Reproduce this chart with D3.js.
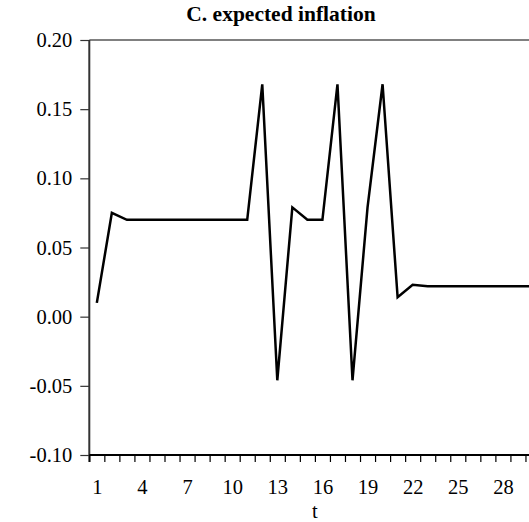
<!DOCTYPE html>
<html>
<head>
<meta charset="utf-8">
<script src="https://cdn.jsdelivr.net/npm/d3@7"></script>
<style>
  html, body { margin: 0; padding: 0; background: #fff; }
  svg { display: block; font-family: "Liberation Serif", "Times New Roman", serif; }
</style>
</head>
<body>
<svg id="chart" width="529" height="522"></svg>
<script>
const title = "C. expected inflation";
const xTitle = "t";
const periods = d3.range(1, 31);
const expectedInflation = [
  0.010, 0.075, 0.070, 0.070, 0.070, 0.070, 0.070, 0.070, 0.070, 0.070,
  0.070, 0.168, -0.046, 0.079, 0.070, 0.070, 0.168, -0.046, 0.079, 0.168,
  0.014, 0.023, 0.022, 0.022, 0.022, 0.022, 0.022, 0.022, 0.022, 0.022
];
const yTicks = [-0.10, -0.05, 0.00, 0.05, 0.10, 0.15, 0.20];
const xLabelTicks = [1, 4, 7, 10, 13, 16, 19, 22, 25, 28];

const svg = d3.select("#chart");
const plotLeft = 89.3, plotRight = 540.5, plotTop = 40, plotBottom = 455;

const x = d3.scaleLinear().domain([0.5, 30.5]).range([plotLeft, plotRight]);
const y = d3.scaleLinear().domain([-0.10, 0.20]).range([plotBottom, plotTop]);

const yFmt = d => d3.format(".2f")(d).replace("\u2212", "-");

// top frame line (gray)
svg.append("line")
  .attr("x1", plotLeft).attr("x2", plotRight)
  .attr("y1", y(0.20)).attr("y2", y(0.20))
  .attr("stroke", "#808080").attr("stroke-width", 2);

// y axis
const yAxis = svg.append("g")
  .attr("transform", `translate(${plotLeft},0)`)
  .call(d3.axisLeft(y).tickValues(yTicks).tickFormat(yFmt).tickSize(9).tickPadding(8));
yAxis.select(".domain").remove();
yAxis.selectAll(".tick line").attr("stroke", "#333").attr("stroke-width", 1.2);
yAxis.selectAll(".tick text").attr("font-size", 20.5).attr("fill", "#000")
  .attr("font-family", "'Liberation Serif', 'Times New Roman', serif");
svg.append("line")
  .attr("x1", plotLeft).attr("x2", plotLeft)
  .attr("y1", plotTop).attr("y2", plotBottom + 7)
  .attr("stroke", "#333").attr("stroke-width", 2);

// x axis tick marks at period boundaries
const xTickMarks = d3.range(0.5, 31, 1);
const xAxisMarks = svg.append("g")
  .attr("transform", `translate(0,${plotBottom})`)
  .call(d3.axisBottom(x).tickValues(xTickMarks).tickFormat("").tickSize(7));
xAxisMarks.select(".domain").remove();
xAxisMarks.selectAll(".tick line").attr("stroke", "#000").attr("stroke-width", 1.2);
svg.append("line")
  .attr("x1", plotLeft).attr("x2", plotRight)
  .attr("y1", plotBottom).attr("y2", plotBottom)
  .attr("stroke", "#000").attr("stroke-width", 2);

// x axis labels
const xAxisLabels = svg.append("g")
  .attr("transform", `translate(0,${plotBottom})`)
  .call(d3.axisBottom(x).tickValues(xLabelTicks).tickFormat(d3.format("d")).tickSize(0).tickPadding(24));
xAxisLabels.select(".domain").remove();
xAxisLabels.selectAll(".tick text").attr("font-size", 20.5).attr("fill", "#000")
  .attr("font-family", "'Liberation Serif', 'Times New Roman', serif");

// x title
svg.append("text")
  .attr("x", (plotLeft + plotRight) / 2).attr("y", 518)
  .attr("text-anchor", "middle")
  .attr("font-size", 20.5)
  .text(xTitle);

// chart title
svg.append("text")
  .attr("x", 281).attr("y", 21)
  .attr("text-anchor", "middle")
  .attr("font-size", 21.5).attr("font-weight", "bold")
  .text(title);

// data line
const line = d3.line()
  .x((d, i) => x(periods[i]))
  .y(d => y(d));
svg.append("path")
  .datum(expectedInflation)
  .attr("fill", "none")
  .attr("stroke", "#000")
  .attr("stroke-width", 2.5)
  .attr("stroke-linejoin", "miter")
  .attr("d", line);
</script>
</body>
</html>
